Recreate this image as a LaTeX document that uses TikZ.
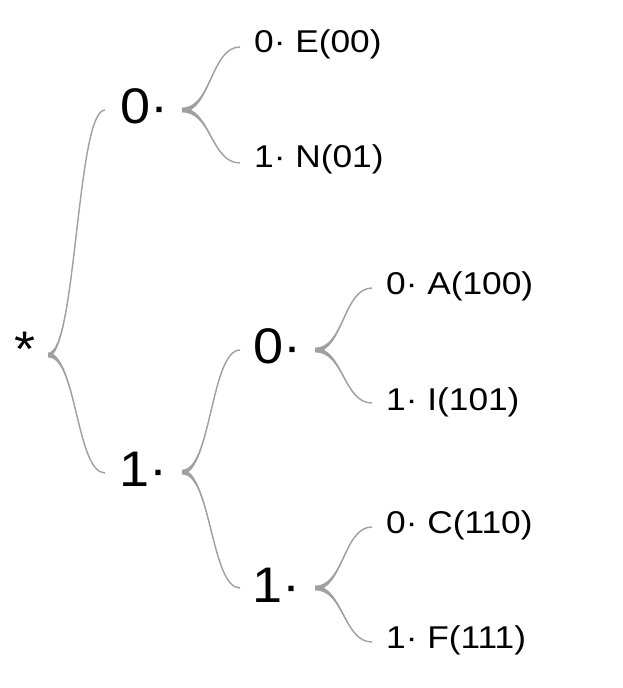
\documentclass[tikz,border=0pt]{standalone}
\usepackage{fontspec}
\setmainfont[FakeStretch=1.08]{Liberation Sans}
\newfontfamily\smallfam[FakeStretch=1.12]{Liberation Sans}
\usetikzlibrary{calc}
\definecolor{branchcol}{RGB}{160,160,160}
\newcommand\bw{2.3pt}
\newcommand\branchto[2]{%
  \fill[branchcol] let \p1=(#1), \p2=(#2) in
    (\x1,{\y1+\bw}) .. controls ({(\x1+\x2)/2},{\y1+\bw}) and ({(\x1+\x2)/2},\y2) .. (\x2,\y2)
    .. controls ({(\x1+\x2)/2},\y2) and ({(\x1+\x2)/2},{\y1-\bw}) .. (\x1,{\y1-\bw}) -- cycle;
  \draw[branchline] let \p1=(#1), \p2=(#2) in
    (#1) .. controls ({(\x1+\x2)/2},\y1) and ({(\x1+\x2)/2},\y2) .. (#2);
}
\begin{document}
\begin{tikzpicture}[x=1pt,y=-1pt,
  branchline/.style={draw=branchcol, line width=1.4pt},
  bigtxt/.style={anchor=base west, inner sep=0pt, font=\fontsize{50}{50}\selectfont},
  smalltxt/.style={anchor=base west, inner sep=0pt, font=\smallfam\fontsize{31.5}{31.5}\selectfont}]
\useasboundingbox (0,0) rectangle (622,688);
% texts
\node[bigtxt] (root) at (14,366) {*};
\node[bigtxt] (n0) at (120,123) {0·};
\node[bigtxt] (n1) at (119,486) {1·};
\node[bigtxt] (n10) at (253,363) {0·};
\node[bigtxt] (n11) at (252,602) {1·};
\node[smalltxt] (e) at (254,52) {0· E(00)};
\node[smalltxt] (nn) at (254,167) {1· N(01)};
\node[smalltxt] (a) at (386,294) {0· A(100)};
\node[smalltxt] (i) at (386,410) {1· I(101)};
\node[smalltxt] (c) at (386,533) {0· C(110)};
\node[smalltxt] (f) at (386,648) {1· F(111)};
% connector points
\coordinate (jr) at (48,355);
\coordinate (t0) at (105,110);
\coordinate (t1) at (105,473);
\coordinate (j0) at (182,110);
\coordinate (te) at (240,47);
\coordinate (tn) at (240,163);
\coordinate (j1) at (182,472);
\coordinate (t10) at (240,350);
\coordinate (t11) at (240,588);
\coordinate (j10) at (315,350);
\coordinate (ta) at (372,288);
\coordinate (ti) at (372,403);
\coordinate (j11) at (315,588);
\coordinate (tc) at (372,527);
\coordinate (tf) at (372,642);
% connectors
\branchto{jr}{t0}
\branchto{jr}{t1}
\branchto{j0}{te}
\branchto{j0}{tn}
\branchto{j1}{t10}
\branchto{j1}{t11}
\branchto{j10}{ta}
\branchto{j10}{ti}
\branchto{j11}{tc}
\branchto{j11}{tf}
\end{tikzpicture}
\end{document}
